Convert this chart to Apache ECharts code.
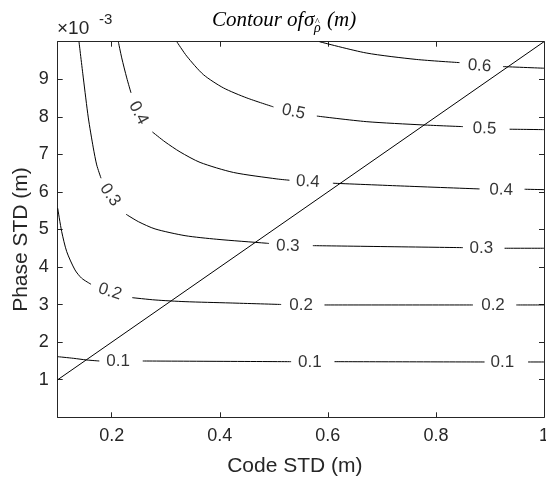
<!DOCTYPE html>
<html><head><meta charset="utf-8">
<script src="https://cdn.jsdelivr.net/npm/echarts@6/dist/echarts.min.js"></script>
<style>html,body{margin:0;padding:0;background:#fff}#c{width:546px;height:477px}</style>
</head><body><div id="c"></div>
<script>
// ---- data (x: Code STD in m, y: Phase STD in m) ----
const xTickValues = [0.2, 0.4, 0.6, 0.8, 1];
const xRange = [0.1, 1];
const yRange = [0, 0.01];
const yTickStep = 0.001;

// contour level 0.1 (null = gap where a label sits)
const c01x = [0.1, 0.1289, 0.1537, 0.177, null, 0.2574, 0.532, null, 0.6122, 0.89, null, 0.9704, 1.0];
const c01y = [1.614e-3, 1.571e-3, 1.526e-3, 1.499e-3, null, 1.499e-3, 1.481e-3, null, 1.481e-3, 1.473e-3, null, 1.473e-3, 1.473e-3];
// contour level 0.2
const c02x = [0.1, 0.1074, 0.1167, 0.132, 0.1444, 0.1617, null, 0.2381, 0.2802, 0.3357, 0.4191, 0.5135, null, 0.5937, 0.8685, null, 0.9487, 1.0];
const c02y = [5.566e-3, 4.943e-3, 4.41e-3, 3.923e-3, 3.702e-3, 3.542e-3, null, 3.185e-3, 3.124e-3, 3.079e-3, 3.044e-3, 3.004e-3, null, 2.991e-3, 2.991e-3, null, 2.991e-3, 2.991e-3];
// contour level 0.3
const c03x = [0.1394, 0.1474, 0.1567, 0.1659, 0.1722, 0.1802, null, 0.2265, 0.2493, 0.2802, 0.3357, 0.3944, 0.487, 0.4911, null, 0.5722, 0.85, null, 0.927, 1.0];
const c03y = [10.0e-3, 9.036e-3, 7.971e-3, 7.172e-3, 6.719e-3, 6.365e-3, null, 5.406e-3, 5.209e-3, 5.015e-3, 4.836e-3, 4.74e-3, 4.634e-3, 4.628e-3, null, 4.57e-3, 4.517e-3, null, 4.501e-3, 4.501e-3];
// contour level 0.4
const c04x = [0.2122, 0.2185, 0.2278, 0.2357, null, 0.2752, 0.2987, 0.3265, 0.3635, 0.4252, 0.5056, 0.5289, null, 0.6093, 0.7339, 0.8807, null, 0.9641, 1.0];
const c04y = [10.0e-3, 9.569e-3, 9.036e-3, 8.637e-3, null, 7.598e-3, 7.332e-3, 7.065e-3, 6.786e-3, 6.519e-3, 6.346e-3, 6.312e-3, null, 6.232e-3, 6.16e-3, 6.08e-3, null, 6.072e-3, 6.061e-3];
// contour level 0.5
const c05x = [0.3204, 0.3389, 0.3696, 0.4067, 0.45, 0.4993, null, 0.5796, 0.6709, 0.7759, 0.85, null, 0.9363, 1.0];
const c05y = [10.0e-3, 9.614e-3, 9.124e-3, 8.77e-3, 8.503e-3, 8.264e-3, null, 8.02e-3, 7.872e-3, 7.784e-3, 7.739e-3, null, 7.67e-3, 7.659e-3];
// contour level 0.6
const c06x = [0.5844, 0.6709, 0.7635, 0.8437, null, 0.9241, 1.0];
const c06y = [10.0e-3, 9.7e-3, 9.528e-3, 9.443e-3, null, 9.337e-3, 9.294e-3];

// diagonal reference line
const diagX = [0.1, 1.0];
const diagY = [0.001, 0.01];

// contour labels
const lblText = ['0.1', '0.1', '0.1', '0.2', '0.2', '0.2', '0.3', '0.3', '0.3', '0.4', '0.4', '0.4', '0.5', '0.5', '0.6'];
const lblX = [0.2117, 0.5667, 0.9228, 0.1969, 0.5506, 0.9056, 0.1969, 0.5259, 0.8839, 0.2493, 0.563, 0.9209, 0.5363, 0.89, 0.8807];
const lblY = [1.499e-3, 1.473e-3, 1.473e-3, 3.345e-3, 2.991e-3, 2.991e-3, 5.92e-3, 4.562e-3, 4.5e-3, 8.104e-3, 6.274e-3, 6.053e-3, 8.13e-3, 7.686e-3, 9.356e-3];

// ---- rendering ----
const lblRot = [0, 0, 0, -18, 0, 0, -55, -1, 0, -62, -3, -1, -12, -2, -4];
const AX = '#262626';
const SANS = 'Liberation Sans';

function pairs(xs, ys) {
  return xs.map((x, i) => (x === null ? ['-', '-'] : [x, ys[i]]));
}
const contours = [[c01x, c01y], [c02x, c02y], [c03x, c03y], [c04x, c04y], [c05x, c05y], [c06x, c06y]];

const series = contours.map(([xs, ys]) => ({
  type: 'line',
  data: pairs(xs, ys),
  showSymbol: false,
  smooth: 0.25,
  connectNulls: false,
  lineStyle: { color: '#000', width: 1 },
  z: 3
}));
series.push({
  type: 'line',
  data: pairs(diagX, diagY),
  showSymbol: false,
  lineStyle: { color: '#000', width: 1 },
  z: 4
});
series.push({
  type: 'scatter',
  symbolSize: 1,
  itemStyle: { color: 'rgba(0,0,0,0)' },
  data: lblText.map((t, i) => ({
    value: [lblX[i], lblY[i]],
    name: t,
    label: { rotate: lblRot[i] }
  })),
  label: {
    show: true,
    position: 'inside',
    formatter: p => p.name,
    fontFamily: SANS,
    fontSize: 17,
    color: '#000'
  },
  z: 5
});

const tickInside = { show: true, inside: true, length: 5, lineStyle: { color: AX, width: 1 } };
const axisLine = { show: true, onZero: false, lineStyle: { color: AX, width: 1 } };

const option = {
  animation: false,
  backgroundColor: '#fff',
  grid: { left: 57.7, right: 2, top: 41.7, bottom: 59.7, containLabel: false, outerBoundsMode: 'none' },
  xAxis: [
    {
      type: 'value', min: xRange[0], max: xRange[1], position: 'bottom',
      axisLine: axisLine,
      axisTick: Object.assign({ customValues: xTickValues }, tickInside),
      axisLabel: {
        customValues: xTickValues,
        formatter: v => String(+(+v).toFixed(1)),
        fontFamily: SANS, fontSize: 18, color: AX, margin: 10
      },
      splitLine: { show: false },
      name: 'Code STD (m)', nameLocation: 'middle', nameGap: 38, nameMoveOverlap: false,
      nameTextStyle: { fontFamily: SANS, fontSize: 21, color: AX, padding: [0, 12, 0, 0] }
    },
    {
      type: 'value', min: xRange[0], max: xRange[1], position: 'top',
      axisLine: axisLine,
      axisTick: Object.assign({ customValues: xTickValues }, tickInside),
      axisLabel: { show: false },
      splitLine: { show: false }
    }
  ],
  yAxis: [
    {
      type: 'value', min: yRange[0], max: yRange[1], interval: yTickStep, position: 'left',
      axisLine: axisLine,
      axisTick: tickInside,
      axisLabel: {
        formatter: v => { const k = Math.round(v * 1000); return (k >= 1 && k <= 9) ? String(k) : ''; },
        fontFamily: SANS, fontSize: 18, color: AX, margin: 9
      },
      splitLine: { show: false },
      name: 'Phase STD (m)', nameLocation: 'middle', nameGap: 26, nameMoveOverlap: false,
      nameTextStyle: { fontFamily: SANS, fontSize: 21, color: AX, padding: [0, 20, 0, 0] }
    },
    {
      type: 'value', min: yRange[0], max: yRange[1], interval: yTickStep, position: 'right',
      axisLine: axisLine,
      axisTick: tickInside,
      axisLabel: { show: false },
      splitLine: { show: false }
    }
  ],
  graphic: [
    { type: 'text', left: 57, top: 19, style: { text: '×10', font: '19px "Liberation Sans"', fill: AX } },
    { type: 'text', left: 99, top: 12, style: { text: '-3', font: '15px "Liberation Sans"', fill: AX } },
    { type: 'text', left: 212, top: 10, style: { text: 'Contour', font: 'italic 21px "Liberation Serif"', fill: '#000' } },
    { type: 'text', left: 287, top: 10, style: { text: 'of', font: 'italic 21px "Liberation Serif"', fill: '#000' } },
    { type: 'text', left: 304, top: 10, style: { text: 'σ', font: 'italic 21px "Liberation Serif"', fill: '#000' } },
    { type: 'text', left: 314, top: 21, style: { text: 'ρ', font: 'italic 14px "Liberation Serif"', fill: '#000' } },
    { type: 'text', left: 315, top: 17, style: { text: '^', font: '10px "Liberation Serif"', fill: '#000' } },
    { type: 'text', left: 327, top: 10, style: { text: '(m)', font: 'italic 21px "Liberation Serif"', fill: '#000' } }
  ],
  series: series
};
const chart = echarts.init(document.getElementById('c'));
chart.setOption(option);
</script>
</body></html>
